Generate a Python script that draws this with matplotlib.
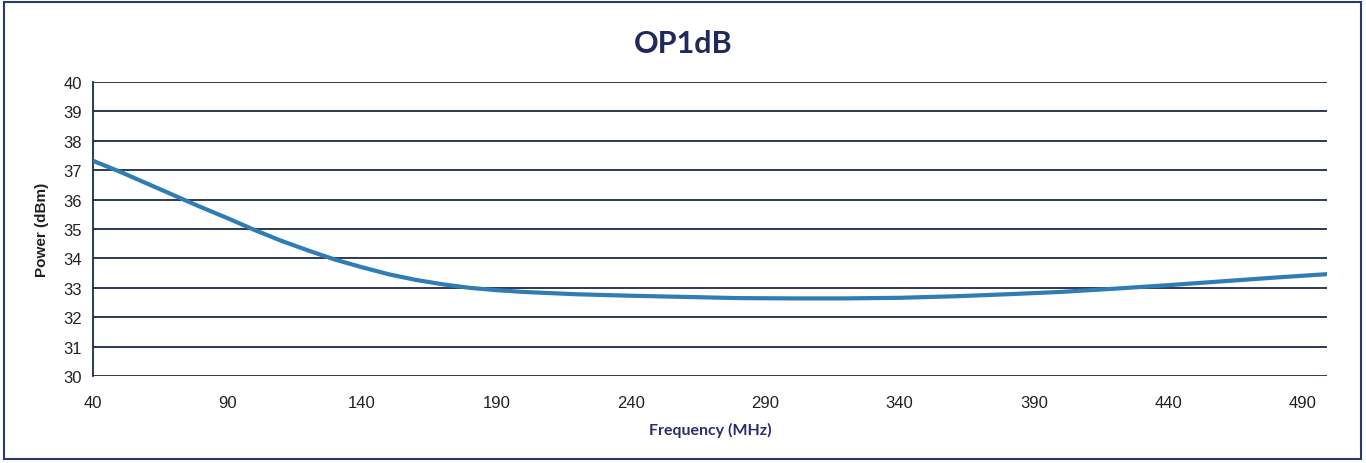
import numpy as np
import matplotlib
matplotlib.use("Agg")
import matplotlib.pyplot as plt
from matplotlib.patches import Rectangle

#Data
freq_mhz = [40, 50, 60, 70, 80, 90, 100, 110, 120, 130, 140, 150, 160, 170, 180,
            190, 200, 220, 240, 260, 280, 300, 320, 340, 360, 380, 400, 420,
            440, 460, 480, 500]
power_dbm = [37.32, 36.95, 36.55, 36.15, 35.75, 35.37, 34.97, 34.60, 34.27, 33.96,
             33.70, 33.46, 33.27, 33.12, 33.00, 32.92, 32.86, 32.78, 32.73, 32.69,
             32.65, 32.64, 32.64, 32.66, 32.71, 32.78, 32.86, 32.97, 33.09, 33.22,
             33.35, 33.47]
x_ticks = [40, 90, 140, 190, 240, 290, 340, 390, 440, 490]
y_ticks = list(range(30, 41))

navy = '#1f2a44'
line_col = '#2e7db5'

fig = plt.figure(figsize=(13.66, 4.64), dpi=100)
ax = fig.add_axes([0.0681, 0.1875, 0.9033, 0.6336])

#Grid lines drawn as horizontal lines
for y in y_ticks:
    ax.axhline(y, color=navy, linewidth=1.3, zorder=1)

ax.plot(freq_mhz, power_dbm, color=line_col, linewidth=3.0, zorder=3,
        solid_capstyle='butt')

ax.set_xlim(40, 499)
ax.set_ylim(30, 40)
ax.set_xticks(x_ticks)
ax.set_yticks(y_ticks)
ax.tick_params(length=0, labelsize=12, colors='#222222', pad=8)
ax.tick_params(axis='x', pad=14)
for lab in ax.get_xticklabels() + ax.get_yticklabels():
    lab.set_family('Liberation Sans')

for s in ['top', 'right', 'bottom']:
    ax.spines[s].set_visible(False)
ax.spines['left'].set_color(navy)
ax.spines['left'].set_linewidth(1.3)

ax.set_xlabel('Frequency (MHz)', fontsize=11.5, fontweight='bold', color='#2a2f6a',
              family='Lato', labelpad=8)
ax.set_ylabel('Power (dBm)', fontsize=11, fontweight='bold', color='#222222',
              family='Liberation Sans', labelpad=10)

fig.text(0.5, 0.905, 'OP1dB', ha='center', va='center', fontsize=22,
         fontweight='bold', color='#1f2a5a', family='Lato')

#Outer frame
fig.patches.append(Rectangle((0.003, 0.008), 0.993, 0.985, transform=fig.transFigure,
                             fill=False, edgecolor='#2a3a6a', linewidth=1.5))

fig.savefig('out.png', dpi=100)
